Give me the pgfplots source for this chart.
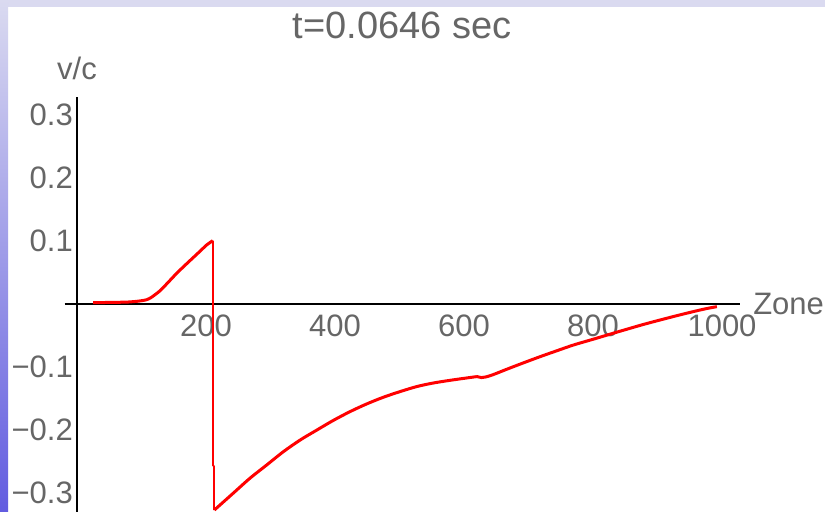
\documentclass[border=0pt]{standalone}
\usepackage{fontspec}
\setmainfont{Liberation Sans}
\usepackage{pgfplots}
\pgfplotsset{compat=1.18}
\definecolor{lav}{RGB}{218,218,240}
\definecolor{stripbot}{RGB}{98,92,224}
\definecolor{txtgray}{RGB}{102,102,102}
\begin{document}
\begin{tikzpicture}
\useasboundingbox (0,0) rectangle (825bp,512bp);
\fill[white] (0,0) rectangle (825bp,512bp);
\fill[lav] (0,505bp) rectangle (825bp,512bp);
\shade[top color=lav, bottom color=stripbot] (0,0) rectangle (8bp,512bp);
\begin{axis}[
  anchor=origin, at={(77bp,208bp)},
  x=0.645bp, y=630bp,
  xmin=-19, xmax=1028, ymin=-0.33, ymax=0.329,
  axis lines=middle,
  axis line style={-, black, line width=2bp},
  clip=false,
  major tick length=0pt,
  xtick={200,400,600,800,1000},
  xticklabels={200,400,600,800,1000},
  ytick={-0.3,-0.2,-0.1,0.1,0.2,0.3},
  yticklabels={−0.3,−0.2,−0.1,0.1,0.2,0.3},
  tick label style={font=\fontsize{31bp}{36bp}\selectfont, text=txtgray, inner sep=0pt},
  xticklabel style={anchor=north, yshift=-11bp},
  yticklabel style={anchor=east, xshift=-4bp},
  xlabel={Zone},
  ylabel={v/c},
  xlabel style={at={(axis cs:1028,0)}, anchor=west, inner sep=0pt, xshift=13bp, font=\fontsize{31bp}{36bp}\selectfont, text=txtgray},
  ylabel style={at={(axis cs:0,0.329)}, anchor=base, inner sep=0pt, yshift=17bp, rotate=0, font=\fontsize{31bp}{36bp}\selectfont, text=txtgray},
]
\addplot[red, line width=3bp, line join=round, smooth, tension=0.4] coordinates {
(25,0.002) (50,0.0025) (77,0.003) (95,0.0045) (108,0.0068) (116,0.0110)
(128.7,0.021) (141,0.034) (154.5,0.0487) (167,0.061) (180,0.0735)
(191,0.084) (201,0.0937) (210.5,0.1005)
};
\addplot[red, line width=1.8bp] coordinates {
(210.8,0.1005) (210.8,-0.256) (212.5,-0.258) (212.5,-0.327)
};
\addplot[red, line width=3bp, line join=round, smooth, tension=0.5] coordinates {
(213,-0.327) (242,-0.3005) (268,-0.2767) (294,-0.2556) (320,-0.2344)
(346,-0.2159) (372,-0.200) (397,-0.185) (423,-0.171) (449,-0.1587)
(475,-0.148) (501,-0.139) (527,-0.131) (552,-0.1255) (578,-0.1212)
(600,-0.1180) (620,-0.1152)
};
\addplot[red, line width=3bp, line join=round] coordinates {
(620,-0.1152) (627,-0.1168) (634,-0.1158)
};
\addplot[red, line width=3bp, line join=round, smooth, tension=0.5] coordinates {
(634,-0.1158) (645,-0.1122)
(666,-0.1037) (692,-0.0935) (718,-0.0836) (744,-0.0742) (770,-0.065)
(800,-0.0560) (832,-0.0462) (852,-0.0402) (878,-0.0325) (904,-0.0254)
(930,-0.0185) (955,-0.0122) (975,-0.0075) (992,-0.0042)
};
\end{axis}
\node[anchor=base, inner sep=0pt, text=txtgray, font=\fontsize{38bp}{44bp}\selectfont] at (402bp,473bp) {t=0.0646 sec};
\end{tikzpicture}
\end{document}
